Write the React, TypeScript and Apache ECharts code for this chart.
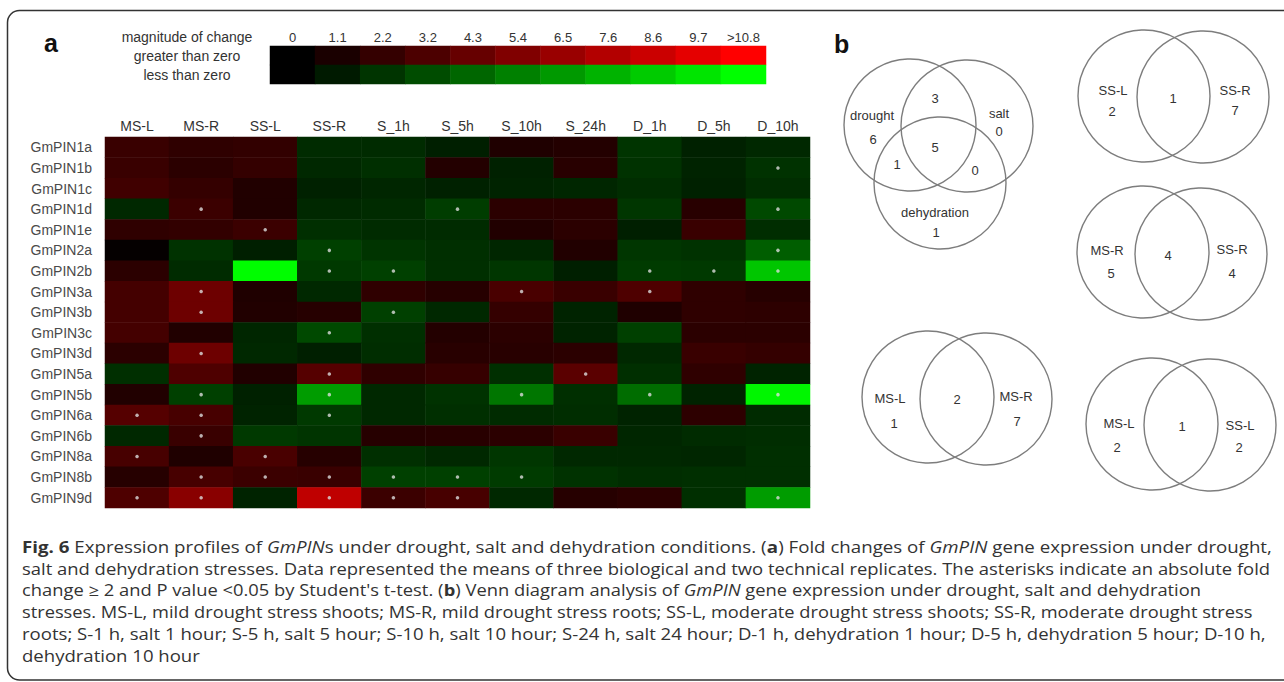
import React, { useEffect, useRef } from "react";
import * as echarts from "echarts";

// ---------------- data ----------------
const conditions = ["MS-L", "MS-R", "SS-L", "SS-R", "S_1h", "S_5h", "S_10h", "S_24h", "D_1h", "D_5h", "D_10h"];
const genes = [
  "GmPIN1a", "GmPIN1b", "GmPIN1c", "GmPIN1d", "GmPIN1e", "GmPIN2a", "GmPIN2b", "GmPIN3a", "GmPIN3b",
  "GmPIN3c", "GmPIN3d", "GmPIN5a", "GmPIN5b", "GmPIN6a", "GmPIN6b", "GmPIN8a", "GmPIN8b", "GmPIN9d",
];
// fold change (positive = up, red; negative = down, green), one row per gene, one value per condition
const pin1a = [2.4, 2.0, 2.1, -1.8, -1.8, -1.3, 1.3, 1.5, -2.2, -1.4, -1.7];
const pin1b = [2.4, 1.8, 2.2, -1.7, -2.0, 1.5, -1.4, 1.7, -2.1, -1.5, -2.1];
const pin1c = [2.7, 2.2, 1.4, -1.4, -1.6, -1.4, -1.5, -1.6, -1.9, -1.4, -1.9];
const pin1d = [-1.7, 2.5, 1.4, -1.7, -1.8, -2.6, 1.8, 1.8, -2.3, 1.7, -3.1];
const pin1e = [2.0, 2.1, 2.5, -2.0, -1.8, -1.8, 1.4, 1.8, -1.3, 2.4, -1.9];
const pin2a = [0.2, -2.1, -1.3, -2.7, -2.2, -2.0, -1.6, 1.4, -2.3, -2.1, -4.0];
const pin2b = [1.8, -1.8, -10.7, -2.4, -2.7, -2.0, -2.3, -1.3, -2.5, -2.4, -8.4];
const pin3a = [2.9, 4.6, 1.3, -1.7, 2.0, 1.6, 3.1, 2.4, 3.3, 2.0, 1.6];
const pin3b = [2.9, 4.6, 1.4, 1.6, -2.7, -1.7, 2.2, -1.5, 1.3, 2.0, 1.9];
const pin3c = [2.9, 1.4, -1.6, -3.1, -2.0, 1.5, 1.8, -1.5, -2.7, 1.8, 1.8];
const pin3d = [1.8, 4.6, -1.7, -1.3, -1.9, 1.7, 1.7, 1.8, -1.7, 2.4, 2.2];
const pin5a = [-2.0, 3.3, 1.4, 3.6, 2.0, 2.3, -2.0, 3.8, -2.0, 2.0, -1.5];
const pin5b = [1.4, -2.7, -1.4, -6.6, -1.7, -2.1, -5.0, -2.0, -4.6, -1.5, -10.4];
const pin6a = [3.6, 3.0, -1.5, -2.4, -1.7, -2.0, -1.8, -1.9, -1.5, 1.9, -1.8];
const pin6b = [-1.7, 2.4, -2.4, -2.2, 1.6, 1.7, 1.8, 2.4, -1.6, -1.8, -1.9];
const pin8a = [3.0, 1.3, 3.1, 1.6, -2.0, -1.7, -2.3, -1.7, -1.7, -1.6, -2.0];
const pin8b = [1.6, 3.0, 2.5, 2.4, -2.7, -2.7, -2.5, -2.1, -1.9, -2.0, -2.0];
const pin9d = [3.3, 5.8, -1.5, 8.1, 2.5, 3.0, -1.7, 1.6, 1.8, -2.0, -6.6];
const foldChange = [pin1a, pin1b, pin1c, pin1d, pin1e, pin2a, pin2b, pin3a, pin3b, pin3c, pin3d, pin5a, pin5b, pin6a, pin6b, pin8a, pin8b, pin9d];

// asterisks: |fold change| >= 2 and P < 0.05
const significant: [string, string][] = [
  ["GmPIN1b", "D_10h"],
  ["GmPIN1d", "MS-R"], ["GmPIN1d", "S_5h"], ["GmPIN1d", "D_10h"],
  ["GmPIN1e", "SS-L"],
  ["GmPIN2a", "SS-R"], ["GmPIN2a", "D_10h"],
  ["GmPIN2b", "SS-R"], ["GmPIN2b", "S_1h"], ["GmPIN2b", "D_1h"], ["GmPIN2b", "D_5h"], ["GmPIN2b", "D_10h"],
  ["GmPIN3a", "MS-R"], ["GmPIN3a", "S_10h"], ["GmPIN3a", "D_1h"],
  ["GmPIN3b", "MS-R"], ["GmPIN3b", "S_1h"],
  ["GmPIN3c", "SS-R"],
  ["GmPIN3d", "MS-R"],
  ["GmPIN5a", "SS-R"], ["GmPIN5a", "S_24h"],
  ["GmPIN5b", "MS-R"], ["GmPIN5b", "SS-R"], ["GmPIN5b", "S_10h"], ["GmPIN5b", "D_1h"], ["GmPIN5b", "D_10h"],
  ["GmPIN6a", "MS-L"], ["GmPIN6a", "MS-R"], ["GmPIN6a", "SS-R"],
  ["GmPIN6b", "MS-R"],
  ["GmPIN8a", "MS-L"], ["GmPIN8a", "SS-L"],
  ["GmPIN8b", "MS-R"], ["GmPIN8b", "SS-L"], ["GmPIN8b", "SS-R"], ["GmPIN8b", "S_1h"], ["GmPIN8b", "S_5h"], ["GmPIN8b", "S_10h"],
  ["GmPIN9d", "MS-L"], ["GmPIN9d", "MS-R"], ["GmPIN9d", "SS-R"], ["GmPIN9d", "S_1h"], ["GmPIN9d", "S_5h"], ["GmPIN9d", "D_10h"],
];

// colour key
const keyTicks = ["0", "1.1", "2.2", "3.2", "4.3", "5.4", "6.5", "7.6", "8.6", "9.7", ">10.8"];
const keyMagnitudes = [0, 1.1, 2.2, 3.2, 4.3, 5.4, 6.5, 7.6, 8.6, 9.7, 10.8];
const keyRows = ["greater than zero", "less than zero"];

// Venn diagrams
const venn3Names = ["drought", "salt", "dehydration"];
const venn3Counts = [6, 0, 1, 3, 1, 0, 5]; // D only, S only, H only, D∩S, D∩H, S∩H, all
const venn2Names = [["SS-L", "SS-R"], ["MS-R", "SS-R"], ["MS-L", "MS-R"], ["MS-L", "SS-L"]];
const venn2Counts = [[2, 1, 7], [5, 4, 4], [1, 2, 7], [2, 1, 2]]; // left only, shared, right only

const captionLines = [
  "{b|Fig. 6} Expression profiles of {i|GmPIN}s under drought, salt and dehydration conditions. ({b|a}) Fold changes of {i|GmPIN} gene expression under drought,",
  "salt and dehydration stresses. Data represented the means of three biological and two technical replicates. The asterisks indicate an absolute fold",
  "change \u2265 2 and P value <0.05 by Student's t-test. ({b|b}) Venn diagram analysis of {i|GmPIN} gene expression under drought, salt and dehydration",
  "stresses. MS-L, mild drought stress shoots; MS-R, mild drought stress roots; SS-L, moderate drought stress shoots; SS-R, moderate drought stress",
  "roots; S-1 h, salt 1 hour; S-5 h, salt 5 hour; S-10 h, salt 10 hour; S-24 h, salt 24 hour; D-1 h, dehydration 1 hour; D-5 h, dehydration 5 hour; D-10 h,",
  "dehydration 10 hour",
];

// ---------------- layout ----------------
const SANS = "'Liberation Sans', Arial, sans-serif";
const CAP_FONT = "'Open Sans', 'Noto Sans', sans-serif";
const CAP_SIZE = 16;
const capX = 22;
const capEnds = [1272, 1271, 1201, 1253, 1266, 200];
const capY0 = 547;
const capDy = 21.7;

const R = 66;
const venn3Layout = {
  circles: [[910, 125], [967, 126], [940, 183]],
  names: [[872, 115], [999, 113], [935, 212]],
  counts: [[873, 139], [999, 131], [936, 232], [935, 98], [897, 164], [975, 170], [935, 147]],
};
const venn2Layout = [
  { c: [[1144, 96], [1203, 97]], t: [[1113, 90], [1112, 111], [1173, 98], [1235, 90], [1235, 110]] },
  { c: [[1143, 252], [1201, 254]], t: [[1107, 250], [1111, 273], [1168, 255], [1232, 249], [1232, 273]] },
  { c: [[928, 397], [986, 399]], t: [[890, 398], [894, 423], [957, 399], [1016, 396], [1017, 421]] },
  { c: [[1152, 424], [1210, 425]], t: [[1119, 423], [1117, 447], [1182, 426], [1240, 425], [1239, 447]] },
];

const keyLeft = 270;
const keyTextX = 187;

function measureLine(ctx: CanvasRenderingContext2D, line: string): number {
  const re = /\{(b|i)\|([^}]*)\}/g;
  let w = 0;
  let last = 0;
  let m: RegExpExecArray | null;
  const seg = (text: string, st: string) => {
    ctx.font = `${st === "i" ? "italic " : ""}${st === "b" ? "bold " : ""}${CAP_SIZE}px ${CAP_FONT}`;
    w += ctx.measureText(text).width;
  };
  while ((m = re.exec(line))) {
    if (m.index > last) seg(line.slice(last, m.index), "n");
    seg(m[2], m[1]);
    last = m.index + m[0].length;
  }
  if (last < line.length) seg(line.slice(last), "n");
  return w;
}

function label(x: number, y: number, text: string, size = 13, extra: any = {}) {
  return {
    type: "text",
    x,
    y,
    silent: true,
    style: { text, fontSize: size, fontFamily: SANS, fill: "#333", align: "center", verticalAlign: "middle", ...extra },
  };
}

function circle(cx: number, cy: number, r: number) {
  return {
    type: "circle",
    silent: true,
    shape: { cx, cy, r },
    style: { fill: "none", stroke: "#7d7d7d", lineWidth: 1.4 },
  };
}

export default function App() {
  const ref = useRef<HTMLDivElement>(null);
  useEffect(() => {
    if (!ref.current) return;
    const chart = echarts.init(ref.current, null, { renderer: "svg" });

    const canvas = document.createElement("canvas");
    const ctx = canvas.getContext("2d")!;

    const graphics: any[] = [];
    // frame
    graphics.push({
      type: "rect",
      silent: true,
      shape: { x: 7.5, y: 10.5, width: 1320, height: 669.5, r: 12 },
      style: { fill: "none", stroke: "#333", lineWidth: 1.5 },
    });
    graphics.push(label(44, 43, "a", 25, { fontWeight: "bold", align: "left", fill: "#111" }));
    graphics.push(label(834, 44, "b", 25, { fontWeight: "bold", align: "left", fill: "#111" }));
    graphics.push(label(keyTextX, 37, "magnitude of change", 14));

    // Venn (3 sets)
    venn3Layout.circles.forEach(([cx, cy]) => graphics.push(circle(cx, cy, R)));
    venn3Names.forEach((n, i) => graphics.push(label(venn3Layout.names[i][0], venn3Layout.names[i][1], n)));
    venn3Counts.forEach((v, i) => graphics.push(label(venn3Layout.counts[i][0], venn3Layout.counts[i][1], String(v))));
    // Venn (2 sets)
    venn2Names.forEach((names, k) => {
      const L = venn2Layout[k];
      L.c.forEach(([cx, cy]) => graphics.push(circle(cx, cy, R)));
      const cnt = venn2Counts[k];
      const texts = [names[0], String(cnt[0]), String(cnt[1]), names[1], String(cnt[2])];
      texts.forEach((t, i) => graphics.push(label(L.t[i][0], L.t[i][1], t)));
    });

    // caption
    const richBase = { fontSize: CAP_SIZE, fontFamily: CAP_FONT, fill: "#333" };
    captionLines.forEach((line, i) => {
      const w = measureLine(ctx, line);
      const sx = w > 0 ? (capEnds[i] - capX) / w : 1;
      graphics.push({
        type: "text",
        x: capX,
        y: capY0 + i * capDy,
        scaleX: sx,
        silent: true,
        style: {
          text: line,
          fontSize: CAP_SIZE,
          fontFamily: CAP_FONT,
          fill: "#333",
          align: "left",
          verticalAlign: "middle",
          rich: {
            b: { ...richBase, fontWeight: "bold" },
            i: { ...richBase, fontStyle: "italic" },
          },
        },
      });
    });

    const heatData: number[][] = [];
    foldChange.forEach((row, r) => row.forEach((v, c) => heatData.push([c, r, v])));
    const keyData: number[][] = [];
    keyMagnitudes.forEach((m, i) => {
      keyData.push([i, 0, m]);
      keyData.push([i, 1, -m]);
    });

    const option: any = {
      animation: false,
      backgroundColor: "#fff",
      grid: [
        { left: 105, top: 137, width: 705, height: 371 },
        { left: keyLeft, top: 46, width: 496, height: 38 },
      ],
      xAxis: [
        {
          type: "category",
          gridIndex: 0,
          data: conditions,
          position: "top",
          axisLine: { show: false },
          axisTick: { show: false },
          splitLine: { show: false },
          axisLabel: { interval: 0, margin: 4, fontSize: 14, fontFamily: SANS, color: "#333" },
        },
        {
          type: "category",
          gridIndex: 1,
          data: keyTicks,
          position: "top",
          axisLine: { show: false },
          axisTick: { show: false },
          axisLabel: { interval: 0, margin: 2, fontSize: 13, fontFamily: SANS, color: "#333" },
        },
      ],
      yAxis: [
        {
          type: "category",
          gridIndex: 0,
          data: genes,
          inverse: true,
          axisLine: { show: false },
          axisTick: { show: false },
          splitLine: { show: false },
          axisLabel: { interval: 0, margin: 13, fontSize: 14, fontFamily: SANS, color: "#4a4a4a" },
        },
        {
          type: "category",
          gridIndex: 1,
          data: keyRows,
          inverse: true,
          axisLine: { show: false },
          axisTick: { show: false },
          axisLabel: { interval: 0, margin: keyLeft - keyTextX, align: "center", fontSize: 14, fontFamily: SANS, color: "#333" },
        },
      ],
      visualMap: {
        type: "continuous",
        show: false,
        min: -10.8,
        max: 10.8,
        dimension: 2,
        seriesIndex: [0, 1],
        inRange: { color: ["#00ff00", "#000000", "#ff0000"] },
      },
      series: [
        {
          type: "heatmap",
          xAxisIndex: 0,
          yAxisIndex: 0,
          data: heatData,
          itemStyle: { borderWidth: 0 },
          emphasis: { disabled: true },
          silent: true,
        },
        {
          type: "heatmap",
          xAxisIndex: 1,
          yAxisIndex: 1,
          data: keyData,
          itemStyle: { borderWidth: 0 },
          emphasis: { disabled: true },
          silent: true,
        },
        {
          type: "scatter",
          xAxisIndex: 0,
          yAxisIndex: 0,
          symbol: "circle",
          symbolSize: 3.5,
          itemStyle: { color: "#dcdcdc" },
          data: significant.map(([g, c]) => [c, g]),
          silent: true,
          z: 5,
        },
      ],
      graphic: graphics,
    };
    chart.setOption(option);
    return () => chart.dispose();
  }, []);
  return (
    <div
      ref={ref}
      style={{ position: "absolute", left: 0, top: 0, width: 1284, height: 682, background: "#fff" }}
    />
  );
}
